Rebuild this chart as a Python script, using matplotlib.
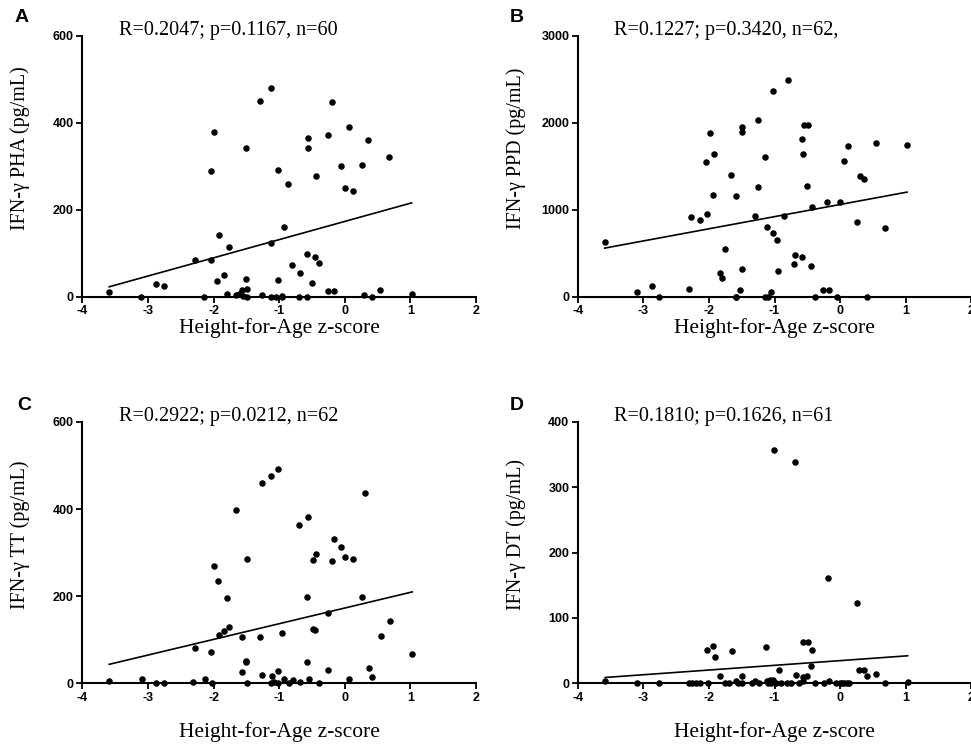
import numpy as np
import matplotlib
matplotlib.use('Agg')
import matplotlib.pyplot as plt

plt.rcParams['axes.unicode_minus'] = False

# ---- data ----
x_pha = [-3.59, -3.10, -2.87, -2.75, -2.28, -2.04, -2.14, -2.00, -2.04, -1.91,
         -1.94, -1.84, -1.76, -1.80, -1.66, -1.61, -1.57, -1.51, -1.49, -1.49,
         -1.50, -1.29, -1.13, -1.26, -1.12, -1.13, -1.01, -1.01, -0.96, -0.93,
         -0.86, -0.80, -0.70, -0.68, -0.58, -0.57, -0.56, -0.56, -0.50, -0.45,
         -0.43, -0.39, -0.26, -0.26, -0.20, -0.17, -0.06, 0.00, 0.06, 0.13,
         0.27, 0.30, 0.36, 0.41, 0.54, 0.68, 1.02, -1.55, -1.05, -0.95]
y_pha = [12, 0, 30, 25, 86, 85, 0, 380, 289, 142,
         37, 51, 115, 6, 4, 8, 15, 41, 19, 1,
         343, 451, 481, 4, 125, 0, 292, 40, 0, 160,
         259, 73, 0, 54, 99, 0, 364, 343, 31, 91,
         277, 78, 373, 13, 448, 13, 301, 250, 391, 244,
         304, 4, 361, 0, 16, 322, 6, 2, 0, 2]

x_ppd = [-3.59, -3.09, -2.87, -2.76, -2.31, -2.28, -2.14, -2.03, -2.04, -1.99,
         -1.92, -1.94, -1.83, -1.80, -1.75, -1.66, -1.58, -1.58, -1.52, -1.50,
         -1.50, -1.50, -1.29, -1.25, -1.25, -1.14, -1.12, -1.14, -1.06, -1.02,
         -1.02, -0.96, -0.94, -0.86, -0.80, -0.70, -0.68, -0.58, -0.58, -0.56,
         -0.55, -0.49, -0.50, -0.45, -0.43, -0.39, -0.26, -0.17, -0.20, -0.05,
         0.00, 0.06, 0.12, 0.26, 0.31, 0.36, 0.41, 0.54, 0.68, 1.02,
         -1.10, -1.58]
y_ppd = [635, 61, 126, 4, 96, 918, 888, 949, 1550, 1879,
         1642, 1171, 272, 214, 555, 1401, 1160, 0, 80, 318,
         1956, 1894, 934, 2032, 1267, 1611, 800, 0, 61, 2361,
         731, 651, 302, 934, 2495, 375, 482, 463, 1810, 1638,
         1971, 1971, 1278, 360, 1037, 0, 80, 80, 1087, 0,
         1087, 1565, 1730, 857, 1385, 1355, 0, 1772, 788, 1745,
         0, 5]

x_tt = [-1.99, -1.93, -1.80, -1.65, -1.49, -1.26, -1.13, -1.01, -0.70, -0.56,
        -0.49, -0.43, -0.57, -0.17, -0.20, -0.05, 0.01, 0.13, 0.31, 0.27,
        -3.59, -3.09, -2.88, -2.75, -2.32, -2.28, -2.13, -2.04, -2.03, -1.91,
        -1.84, -1.76, -1.57, -1.57, -1.51, -1.50, -1.49, -1.29, -1.26, -1.11,
        -1.13, -1.01, -1.02, -0.95, -0.93, -0.85, -0.79, -0.68, -0.57, -0.55,
        -0.49, -0.45, -0.39, -0.25, -0.25, 0.07, 0.37, 0.41, 0.55, 0.69,
        1.03, -1.08]
y_tt = [269, 235, 196, 399, 286, 460, 475, 493, 364, 382,
        282, 298, 198, 331, 280, 313, 289, 286, 436, 198,
        5, 11, 0, 0, 2, 82, 11, 71, 0, 110,
        119, 130, 107, 26, 48, 52, 0, 106, 19, 16,
        0, 28, 1, 115, 11, 0, 8, 2, 50, 11,
        124, 122, 0, 161, 30, 11, 34, 14, 109, 143,
        67, 2]

x_dt = [-3.58, -3.09, -2.76, -2.31, -2.26, -2.13, -2.03, -1.93, -1.91, -2.01,
        -1.83, -1.75, -1.65, -1.58, -1.55, -1.49, -1.50, -1.29, -1.24, -1.13,
        -1.12, -1.07, -1.02, -1.10, -0.97, -0.93, -0.81, -0.67, -0.56, -0.57,
        -0.57, -0.49, -0.50, -0.45, -0.43, -0.39, -0.25, -0.17, -0.06, 0.00,
        0.06, 0.13, 0.29, 0.36, 0.41, 0.55, 0.69, 1.03,
        -1.01, -0.69, -0.19, 0.26,
        -2.20, -1.70, -1.35, -0.90, -0.75, -0.62, 0.03, 0.10, -1.05]
y_dt = [4, 0, 0, 0, 0, 0, 51, 57, 41, 0,
        11, 0, 50, 4, 0, 11, 0, 4, 0, 55,
        4, 5, 5, 0, 0, 21, 1, 12, 3, 9,
        63, 63, 11, 26, 51, 0, 0, 4, 0, 0,
        0, 0, 21, 21, 11, 15, 0, 2,
        357, 339, 161, 123,
        0, 0, 0, 0, 0, 0, 0, 0, 0]

# regression lines (intercept, slope) read from the plotted fits
fits = [(173.5, 41.8), (1062, 139.5), (172.8, 36.0), (34.7, 7.2)]

stats = ['R=0.2047; p=0.1167, n=60',
         'R=0.1227; p=0.3420, n=62,',
         'R=0.2922; p=0.0212, n=62',
         'R=0.1810; p=0.1626, n=61']
ylabels = [u'IFN-\u03b3 PHA (pg/mL)', u'IFN-\u03b3 PPD (pg/mL)',
           u'IFN-\u03b3 TT (pg/mL)', u'IFN-\u03b3 DT (pg/mL)']
letters = ['A', 'B', 'C', 'D']
yticks = [[0, 200, 400, 600], [0, 1000, 2000, 3000],
          [0, 200, 400, 600], [0, 100, 200, 300, 400]]
xticks = [-4, -3, -2, -1, 0, 1, 2]
xs = [x_pha, x_ppd, x_tt, x_dt]
ys = [y_pha, y_ppd, y_tt, y_dt]

###### Plotting
W, H = 971, 747
fig = plt.figure(figsize=(W / 100, H / 100), dpi=100)

# axes boxes in pixels: left, y of zero line, width, height
boxes = [(82.3, 297.0), (577.7, 297.0), (82.3, 683.3), (577.7, 683.3)]
aw, ah = 393.6, 261.3
xlab_y = [-0.12, -0.12, -0.186, -0.186]
letter_pos = [(22, 18), (517, 18), (24, 405), (517, 405)]

serif = 'Liberation Serif'
sans = 'Liberation Sans'

for i in range(4):
    left, zero = boxes[i]
    ax = fig.add_axes([left / W, (H - zero) / H, aw / W, ah / H])
    x = np.array(xs[i])
    y = np.array(ys[i])
    ax.scatter(x, y, s=22, color='black', linewidths=0, zorder=3, clip_on=False)

    b0, b1 = fits[i]
    lx = np.array([x.min(), x.max()])
    ax.plot(lx, b0 + b1 * lx, color='black', lw=1.2, zorder=2)

    ax.set_xlim(-4, 2)
    ax.set_ylim(yticks[i][0], yticks[i][-1])
    ax.set_xticks(xticks)
    ax.set_yticks(yticks[i])
    for s in ['top', 'right']:
        ax.spines[s].set_visible(False)
    for s in ['left', 'bottom']:
        ax.spines[s].set_linewidth(1.5)
    ax.tick_params(direction='out', length=4, width=1.3, pad=2)
    for lab in ax.get_xticklabels() + ax.get_yticklabels():
        lab.set_fontfamily(sans)
        lab.set_fontweight('bold')
        lab.set_fontsize(9)

    ax.set_xlabel('Height-for-Age z-score', fontfamily=serif, fontsize=15.5)
    ax.xaxis.set_label_coords(0.5, xlab_y[i])
    ax.xaxis.label.set_va('center')
    ax.set_ylabel(ylabels[i], fontfamily=serif, fontsize=14.5)
    ax.yaxis.set_label_coords(-0.157, 0.57)
    ax.yaxis.label.set_va('center')

    ax.text(0.093, 1.02, stats[i], transform=ax.transAxes, fontfamily=serif,
            fontsize=14.5, ha='left', va='center')

    lx0, ly0 = letter_pos[i]
    fig.text(lx0 / W, 1 - ly0 / H, letters[i], fontfamily=sans,
             fontweight='bold', fontsize=14, ha='center', va='center')

plt.savefig('out.png', dpi=100)
plt.close()
